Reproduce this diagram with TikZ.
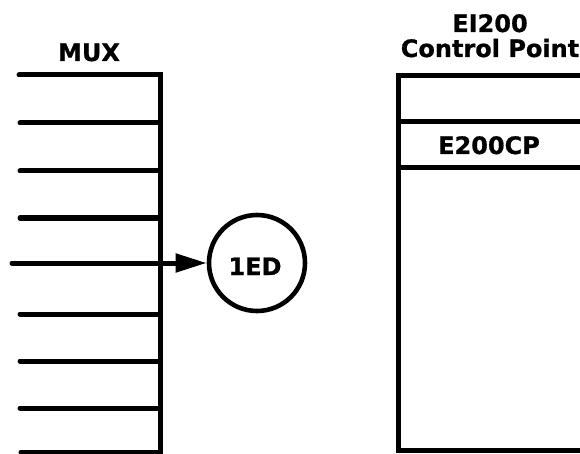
\documentclass[tikz,border=0pt]{standalone}
\usepackage{fontspec}
\setmainfont{DejaVu Sans}[BoldFeatures={FakeBold=0.8}]
\usetikzlibrary{arrows.meta}
\begin{document}
\begin{tikzpicture}[x=1pt,y=-1pt,
  wire/.style={line width=5pt,line cap=round,line join=miter},
  lbl/.style={anchor=base,inner sep=0pt,font=\fontsize{24}{28}\selectfont\bfseries},
  bubble/.style={circle,draw,line width=4.6pt,minimum size=96pt,inner sep=0pt}]
\useasboundingbox[fill=white] (0,0) rectangle (580,454);
% MUX block
\node[lbl] (muxlbl) at (89,61) {MUX};
\draw[wire] (19,75) -- (160,75) -- (160,452) -- (21,452);
\foreach \yy in {123,171,218,314,361,408}{
  \draw[wire] (20,\yy) -- (160,\yy);
}
% 1ED bubble and arrow
\node[bubble] (ed) at (257,263) {};
\node[lbl] (edlbl) at (255,275) {1ED};
\coordinate (src) at (12,263);
\draw[wire,-{Triangle[length=31pt,width=18pt]}] (src) -- (ed.west);
% EI200 Control Point block
\node[lbl] (cp1) at (490,32) {EI200};
\node[lbl] (cp2) at (490,57) {Control Point};
\draw[wire,line cap=butt] (582,76) -- (398,76) -- (398,450) -- (582,450);
\draw[wire,line cap=butt] (398,122) -- (582,122);
\draw[wire,line cap=butt] (398,168) -- (582,168);
\node[lbl] (cplbl) at (489,154) {E200CP};
\end{tikzpicture}
\end{document}
